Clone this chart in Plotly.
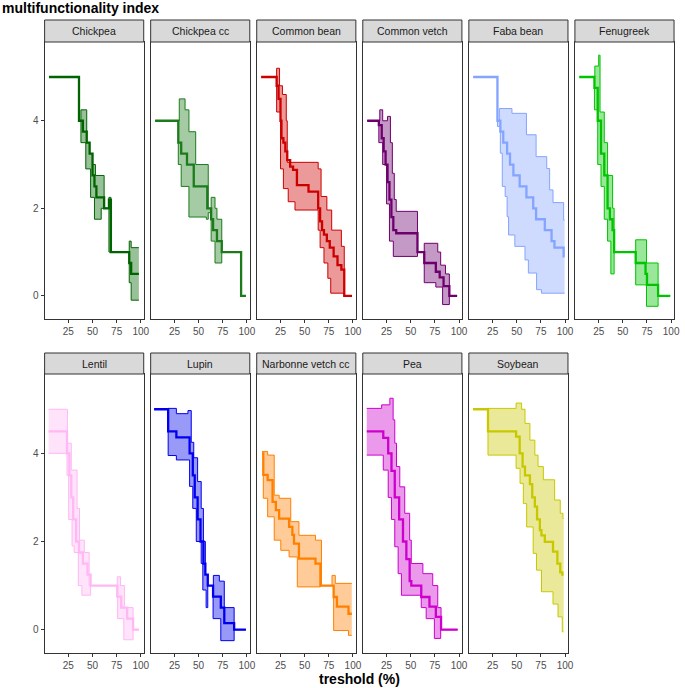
import plotly.graph_objects as go

# ---------------- data (step functions: (x_start, value), last point = end) ----------------
crops = ["Chickpea", "Chickpea cc", "Common bean", "Common vetch", "Faba bean", "Fenugreek",
         "Lentil", "Lupin", "Narbonne vetch cc", "Pea", "Soybean"]
colors = ["#006400", "#1C7C1C", "#CD0000", "#6E006E", "#84A4FF", "#00C400",
          "#FFB8F4", "#0000EE", "#FF8000", "#CD00CD", "#C8C800"]
x_ticks = [25, 50, 75, 100]
y_ticks = [0, 2, 4]

chickpea_mean = [(5, 5), (36, 4), (40, 3.75), (44, 3.5), (47, 3.25), (50, 2.75), (52, 2.5), (54, 2.25), (62, 2.0), (67, 2.2), (69, 1.0), (88, 0.75), (90, 0.5), (98, 0.5)]
chickpea_hi = [(5, 5), (36, 4), (38, 4.25), (44, 3.5), (47, 3.25), (50, 3.0), (53, 2.75), (62, 2.0), (67, 2.25), (69, 1.0), (88, 1.25), (90, 1.1), (98, 1.1)]
chickpea_lo = [(5, 5), (36, 4), (38, 3.5), (43, 2.9), (48, 2.25), (52, 1.75), (59, 2.0), (67, 1.0), (88, 0.3), (90, -0.1), (98, -0.1)]

chickpea_cc_mean = [(5, 4), (29, 3.5), (32, 3.25), (38, 3.0), (45, 2.5), (59, 2.0), (63, 1.75), (65, 1.5), (69, 1.25), (74, 1.0), (94, 0), (99, 0)]
chickpea_cc_hi = [(5, 4), (30, 4.5), (36, 4.25), (40, 3.75), (47, 3.0), (60, 2.0), (63, 2.25), (67, 2.0), (69, 1.75), (74, 1.0), (94, 0), (99, 0)]
chickpea_cc_lo = [(5, 4), (29, 3.0), (32, 2.5), (40, 1.8), (58, 1.75), (60, 1.9), (63, 1.25), (67, 0.75), (74, 1.0), (94, 0), (99, 0)]

common_bean_mean = [(5, 5), (21, 4.8), (23, 4.5), (25, 4.0), (26, 3.6), (28, 3.5), (30, 3.3), (32, 3.1), (35, 2.95), (38, 2.88), (42, 2.53), (54, 2.38), (64, 2.0), (66, 1.7), (68, 1.5), (70, 1.4), (73, 1.25), (76, 1.1), (80, 0.9), (84, 0.7), (88, 0.6), (91, 0), (99, 0)]
common_bean_hi = [(5, 5), (21, 5.2), (24, 4.8), (27, 4.6), (31, 4.0), (32, 3.05), (64, 2.9), (67, 2.27), (73, 1.96), (78, 1.5), (88, 1.13), (91, 0), (99, 0)]
common_bean_lo = [(5, 5), (21, 4.2), (25, 2.9), (28, 2.45), (33, 2.15), (40, 1.96), (64, 1.5), (66, 1.1), (70, 0.75), (74, 0.4), (77, 0.06), (91, 0), (99, 0)]

common_vetch_mean = [(5, 4), (17, 3.9), (20, 3.6), (22, 3.3), (24, 3.0), (26, 2.6), (28, 2.2), (30, 1.8), (32, 1.5), (35, 1.43), (57, 1.0), (64, 0.75), (76, 0.55), (80, 0.42), (84, 0.22), (90, 0), (98, 0)]
common_vetch_hi = [(5, 4), (18, 4.25), (21, 4.0), (26, 4.1), (29, 3.5), (31, 2.8), (33, 2.2), (35, 1.93), (57, 1.0), (64, 1.2), (78, 1.0), (81, 0.7), (86, 0.5), (90, 0), (98, 0)]
common_vetch_lo = [(5, 4), (17, 3.5), (21, 3.0), (25, 2.1), (28, 1.25), (32, 0.9), (57, 1.0), (64, 0.3), (76, 0.2), (83, -0.2), (90, 0), (98, 0)]

faba_bean_mean = [(5, 5), (30, 4.0), (33, 3.75), (36, 3.5), (40, 3.25), (43, 3.0), (46.5, 2.75), (53, 2.5), (60, 2.25), (67, 2.0), (70, 1.75), (79, 1.5), (86, 1.25), (89, 1.1), (98.5, 0.9), (99.5, 0.9)]
faba_bean_hi = [(5, 5), (30, 4.0), (32, 4.28), (45, 4.17), (60, 3.68), (70, 3.18), (81, 2.91), (84, 2.42), (87.5, 2.13), (98.5, 1.73), (99.5, 1.73)]
faba_bean_lo = [(5, 5), (30, 3.87), (33, 3.26), (35, 2.5), (38, 2.27), (40, 1.81), (41.5, 1.39), (48, 1.13), (58.5, 0.82), (62, 0.52), (70.5, 0.14), (75.5, 0.06), (99.5, 0.06)]

fenugreek_mean = [(5, 5), (20.6, 4.75), (24, 4.0), (27.4, 3.25), (30.8, 2.75), (34.2, 2.0), (36.6, 1.75), (39.4, 1.5), (41, 1.0), (63.3, 0.75), (73.5, 0.5), (75, 0.25), (86.5, 0), (99, 0)]
fenugreek_hi = [(5, 5), (21, 5.25), (25, 5.5), (26.4, 4.2), (30.8, 3.5), (34.2, 2.75), (39.4, 2.0), (41, 1.0), (63.3, 1.28), (74.5, 0.75), (86.5, 0), (99, 0)]
fenugreek_lo = [(5, 5), (20.6, 4.25), (24, 3.0), (27.4, 2.5), (30.8, 1.75), (34.2, 1.25), (37.6, 0.5), (41, 1.0), (63.3, 0.25), (74.5, -0.24), (86.5, 0), (99, 0)]

lentil_mean = [(4.5, 4.5), (23.6, 4.0), (26, 3.5), (28, 3.0), (30, 2.5), (33, 2.0), (36, 1.75), (40, 1.5), (44.8, 1.25), (48, 1.0), (75.6, 0.75), (79.7, 0.5), (85.8, 0.25), (92, 0), (98, 0)]
lentil_hi = [(4.5, 5.0), (24, 4.23), (28, 3.62), (34, 2.75), (36.5, 2.03), (41.5, 1.75), (46.5, 1.0), (75.6, 1.2), (79, 1.0), (83, 0.5), (92, 0), (98, 0)]
lentil_lo = [(4.5, 4.0), (23.6, 3.5), (25.3, 2.5), (28.8, 1.9), (31, 1.75), (35.3, 1.0), (39, 0.78), (48, 1.0), (76, 0.25), (82.4, -0.23), (92, 0), (98, 0)]

lupin_mean = [(4, 5), (18.5, 4.5), (27, 4.36), (40.7, 4.0), (44, 3.5), (46, 3.0), (49, 2.5), (52, 2.0), (55, 1.5), (57, 1.25), (59.5, 1.0), (65, 0.75), (73, 0.5), (76.6, 0.15), (86.8, 0), (99, 0)]
lupin_hi = [(4, 5), (18.5, 5.02), (27, 4.9), (39, 4.97), (42.4, 4.25), (45, 3.9), (49, 3.36), (52.7, 2.75), (55, 2.0), (57, 1.25), (59.5, 1.0), (65.3, 1.23), (71.5, 1.1), (76.6, 0.5), (86.8, 0), (99, 0)]
lupin_lo = [(4, 5), (18.5, 3.95), (27, 3.85), (40.7, 3.25), (44, 2.75), (47.6, 2.0), (52.7, 1.5), (54.4, 0.9), (57.8, 0.5), (59.5, 1.0), (65, 0.25), (73, -0.25), (86.8, 0), (99, 0)]

narbonne_mean = [(5.9, 4.0), (7.2, 3.51), (11.7, 3.39), (16.8, 2.9), (20.2, 2.71), (23.6, 2.52), (33.9, 2.33), (37.3, 2.15), (39, 1.95), (44.1, 1.61), (61.2, 1.5), (66.3, 1.0), (80, 0.74), (83.4, 0.52), (95.4, 0.36), (98.8, 0.36)]
narbonne_hi = [(5.9, 4.04), (11.7, 3.96), (18.5, 3.05), (23.6, 2.98), (35.6, 2.45), (44.1, 2.14), (61.2, 2.03), (67.4, 1.0), (78.3, 1.23), (81.7, 1.05), (98.8, 1.05)]
narbonne_lo = [(5.9, 4.0), (7.2, 2.98), (11.7, 2.56), (18.5, 2.03), (25.3, 1.8), (33.9, 1.65), (42.4, 0.97), (66.3, 1.0), (80, -0.02), (95.4, -0.13), (98.8, -0.13)]

pea_mean = [(4.5, 4.5), (21.6, 4.35), (26.7, 4.0), (30.1, 3.6), (33.5, 3.0), (38, 2.5), (42, 2.0), (45.5, 1.6), (48.9, 1.1), (50.6, 1.0), (60.9, 0.74), (69.4, 0.52), (76, 0.29), (81.4, 0), (98.5, 0)]
pea_hi = [(4.5, 5.02), (19.9, 5.1), (28.4, 5.25), (31.8, 4.76), (33.5, 4.23), (35.3, 3.7), (38.7, 3.24), (43.8, 2.64), (48.9, 2.03), (50.6, 1.5), (62.6, 1.27), (72.8, 1.0), (78, 0.5), (81.4, 0), (98.5, 0)]
pea_lo = [(4.5, 3.96), (21.6, 3.62), (26.7, 3.0), (30.1, 2.5), (33.5, 1.88), (37, 1.27), (40.4, 0.78), (60.9, 0.5), (66, 0.25), (74.5, -0.2), (81, 0), (98.5, 0)]

soybean_mean = [(4.8, 5), (20.2, 4.5), (49.3, 4.38), (53, 4.0), (56, 3.7), (58.5, 3.5), (63.6, 3.3), (66, 3.0), (68.7, 2.79), (71, 2.5), (73.9, 2.26), (75.5, 2.14), (79, 1.99), (87.5, 1.77), (92, 1.5), (95, 1.3), (97.1, 1.25), (98.5, 1.25)]
soybean_hi = [(4.8, 5), (20.2, 5.02), (49.3, 5.14), (55, 5.0), (58.5, 4.68), (63.6, 4.3), (68.7, 3.96), (72, 3.7), (77.5, 3.4), (89.2, 2.94), (95, 2.64), (97.8, 2.52), (98.5, 2.52)]
soybean_lo = [(4.8, 5), (20.2, 3.96), (49.3, 3.66), (53.4, 3.32), (56.8, 2.86), (60.2, 2.33), (67, 1.73), (70.4, 1.35), (75.6, 0.86), (87.5, 0.58), (92.7, 0.29), (97.1, -0.05), (98.5, -0.05)]

series = [
    (chickpea_mean, chickpea_lo, chickpea_hi),
    (chickpea_cc_mean, chickpea_cc_lo, chickpea_cc_hi),
    (common_bean_mean, common_bean_lo, common_bean_hi),
    (common_vetch_mean, common_vetch_lo, common_vetch_hi),
    (faba_bean_mean, faba_bean_lo, faba_bean_hi),
    (fenugreek_mean, fenugreek_lo, fenugreek_hi),
    (lentil_mean, lentil_lo, lentil_hi),
    (lupin_mean, lupin_lo, lupin_hi),
    (narbonne_mean, narbonne_lo, narbonne_hi),
    (pea_mean, pea_lo, pea_hi),
    (soybean_mean, soybean_lo, soybean_hi),
]

# ---------------- layout geometry ----------------
W, H = 685, 688
col_left = [45, 152, 259, 366, 473, 580]
pw = 100
rows = [(42, 319), (374, 653)]      # panel top, bottom (px)
strips = [(20, 42), (353, 374)]     # strip top, bottom (px)
FONT = "Liberation Sans, Arial, sans-serif"


def rgba(hexc, a):
    h = hexc.lstrip("#")
    r, g, b = int(h[0:2], 16), int(h[2:4], 16), int(h[4:6], 16)
    return f"rgba({r},{g},{b},{a})"


fig = go.Figure()
layout = dict(width=W, height=H, margin=dict(l=0, r=0, t=0, b=0),
              paper_bgcolor="white", plot_bgcolor="white", showlegend=False,
              font=dict(family=FONT, color="#4D4D4D"))
shapes, annotations = [], []

for i, crop in enumerate(crops):
    r, c = divmod(i, 6)
    n = i + 1
    xa = "x" if n == 1 else f"x{n}"
    ya = "y" if n == 1 else f"y{n}"
    left = col_left[c]
    top, bot = rows[r]
    col = colors[i]
    mean, lo, hi = series[i]

    fig.add_trace(go.Scatter(x=[p[0] for p in lo], y=[p[1] for p in lo], mode="lines",
                             line=dict(shape="hv", color=col, width=1), xaxis=xa, yaxis=ya,
                             hoverinfo="skip"))
    fig.add_trace(go.Scatter(x=[p[0] for p in hi], y=[p[1] for p in hi], mode="lines",
                             line=dict(shape="hv", color=col, width=1), fill="tonexty",
                             fillcolor=rgba(col, 0.4), xaxis=xa, yaxis=ya, hoverinfo="skip"))
    fig.add_trace(go.Scatter(x=[p[0] for p in mean], y=[p[1] for p in mean], mode="lines",
                             line=dict(shape="hv", color=col, width=2.3), xaxis=xa, yaxis=ya))

    axkey_x = "xaxis" if n == 1 else f"xaxis{n}"
    axkey_y = "yaxis" if n == 1 else f"yaxis{n}"
    layout[axkey_x] = dict(domain=[left / W, (left + pw) / W], range=[0.4, 103],
                           anchor=ya, tickvals=x_ticks, ticks="outside", ticklen=3,
                           tickcolor="#333333", tickfont=dict(size=10, color="#4D4D4D"),
                           showgrid=False, zeroline=False, showline=True, mirror=True,
                           linecolor="#333333", linewidth=1, fixedrange=True)
    first = (c == 0)
    layout[axkey_y] = dict(domain=[1 - bot / H, 1 - top / H], range=[-0.53, 5.8],
                           anchor=xa, tickvals=y_ticks, showticklabels=first,
                           ticks="outside" if first else "", ticklen=3,
                           tickcolor="#333333", tickfont=dict(size=10, color="#4D4D4D"),
                           showgrid=False, zeroline=False, showline=True, mirror=True,
                           linecolor="#333333", linewidth=1, fixedrange=True)

    st, sb = strips[r]
    shapes.append(dict(type="rect", xref="paper", yref="paper",
                       x0=left / W, x1=(left + pw) / W, y0=1 - sb / H, y1=1 - st / H,
                       fillcolor="#D9D9D9", line=dict(color="#333333", width=1)))
    annotations.append(dict(text=crop, xref="paper", yref="paper",
                            x=(left + pw / 2) / W, y=1 - (st + sb) / 2 / H,
                            xanchor="center", yanchor="middle", showarrow=False,
                            font=dict(size=10.5, color="#1A1A1A", family=FONT)))

annotations.append(dict(text="<b>multifunctionality index</b>", xref="paper", yref="paper",
                        x=0, y=1 - 8 / H, xanchor="left", yanchor="middle", showarrow=False,
                        font=dict(size=14, color="black", family=FONT)))
annotations.append(dict(text="<b>treshold (%)</b>", xref="paper", yref="paper",
                        x=363 / W, y=1 - 679 / H, xanchor="center", yanchor="middle",
                        showarrow=False, font=dict(size=14, color="black", family=FONT)))

layout["shapes"] = shapes
layout["annotations"] = annotations
fig.update_layout(**layout)
fig.write_html("out.html", config={"displayModeBar": False},
               post_script="document.body.style.margin='0';document.body.style.padding='0';"
                           "document.body.style.overflow='hidden';")
